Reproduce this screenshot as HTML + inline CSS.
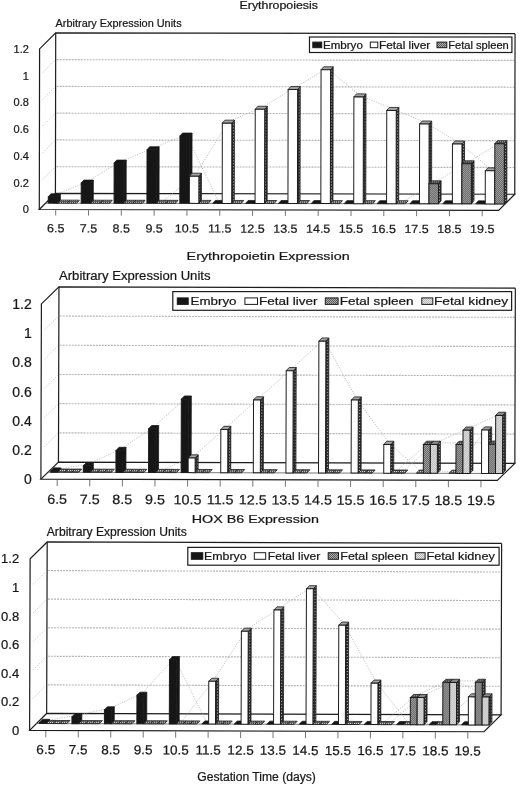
<!DOCTYPE html>
<html><head><meta charset="utf-8"><title>Erythropoiesis / Erythropoietin / HOX B6 expression</title>
<style>html,body{margin:0;padding:0;background:#fff;}body{width:520px;height:786px;overflow:hidden;font-family:"Liberation Sans", sans-serif;}svg{display:block;will-change:transform;}</style>
</head><body>
<svg width="520" height="786" viewBox="0 0 520 786" font-family='"Liberation Sans", sans-serif'>
<style>text{stroke:#1a1a1a;stroke-width:0.22px;}</style>
<defs>
<pattern id="pmid" width="2" height="2" patternUnits="userSpaceOnUse"><rect width="2" height="2" fill="#b0b0b0"/><rect width="1" height="1" fill="#565656"/><rect x="1" y="1" width="1" height="1" fill="#565656"/></pattern>
<pattern id="plight" width="2" height="2" patternUnits="userSpaceOnUse"><rect width="2" height="2" fill="#e8e8e8"/><rect width="1" height="1" fill="#b4b4b4"/><rect x="1" y="1" width="1" height="1" fill="#b4b4b4"/></pattern>
<pattern id="pdark" width="2" height="3" patternUnits="userSpaceOnUse"><rect width="2" height="3" fill="#2a2a2a"/><rect x="1" y="1" width="1" height="1" fill="#bbb"/></pattern>
<pattern id="ptop" width="2" height="2" patternUnits="userSpaceOnUse"><rect width="2" height="2" fill="#444"/><rect width="1" height="1" fill="#bbb"/></pattern>
<filter id="soft" x="0" y="0" width="100%" height="100%"><feGaussianBlur stdDeviation="0.35"/></filter>
<pattern id="pflat" width="2" height="2" patternUnits="userSpaceOnUse"><rect width="2" height="2" fill="#555"/><rect width="1" height="1" fill="#ddd"/></pattern>
</defs>
<rect width="520" height="786" fill="#fff"/>
<g filter="url(#soft)">
<g transform="rotate(0.1 39.3 209.5)">
<path d="M56.4 166.64 L514.24 166.64" fill="none" stroke="#b4b4b4" stroke-width="1.1" stroke-dasharray="2 1"/>
<path d="M42.3 179.74 L54.4 167.64" fill="none" stroke="#c8c8c8" stroke-width="0.9" stroke-dasharray="1.5 1.5"/>
<path d="M56.4 139.88 L514.24 139.88" fill="none" stroke="#b4b4b4" stroke-width="1.1" stroke-dasharray="2 1"/>
<path d="M42.3 152.98 L54.4 140.88" fill="none" stroke="#c8c8c8" stroke-width="0.9" stroke-dasharray="1.5 1.5"/>
<path d="M56.4 113.12 L514.24 113.12" fill="none" stroke="#b4b4b4" stroke-width="1.1" stroke-dasharray="2 1"/>
<path d="M42.3 126.22 L54.4 114.12" fill="none" stroke="#c8c8c8" stroke-width="0.9" stroke-dasharray="1.5 1.5"/>
<path d="M56.4 86.36 L514.24 86.36" fill="none" stroke="#b4b4b4" stroke-width="1.1" stroke-dasharray="2 1"/>
<path d="M42.3 99.46 L54.4 87.36" fill="none" stroke="#c8c8c8" stroke-width="0.9" stroke-dasharray="1.5 1.5"/>
<path d="M56.4 59.6 L514.24 59.6" fill="none" stroke="#b4b4b4" stroke-width="1.1" stroke-dasharray="2 1"/>
<path d="M42.3 72.7 L54.4 60.6" fill="none" stroke="#c8c8c8" stroke-width="0.9" stroke-dasharray="1.5 1.5"/>
<path d="M39.3 209.5 L39.3 48.94 L55.4 32.84 L514.74 32.84" fill="none" stroke="#1c1c1c" stroke-width="1.2"/>
<path d="M55.4 32.84 L55.4 193.4 M514.74 32.84 L514.74 193.4" fill="none" stroke="#1c1c1c" stroke-width="1.2"/>
<path d="M39.3 209.5 L498.64 209.5 L514.74 193.4 L55.4 193.4 Z" fill="#fff" stroke="#1c1c1c" stroke-width="1.2"/>
<path d="M55.7 210.1 L55.7 215.5" stroke="#666" stroke-width="0.9"/>
<path d="M88.52 210.1 L88.52 215.5" stroke="#666" stroke-width="0.9"/>
<path d="M121.33 210.1 L121.33 215.5" stroke="#666" stroke-width="0.9"/>
<path d="M154.13 210.1 L154.13 215.5" stroke="#666" stroke-width="0.9"/>
<path d="M186.94 210.1 L186.94 215.5" stroke="#666" stroke-width="0.9"/>
<path d="M219.75 210.1 L219.75 215.5" stroke="#666" stroke-width="0.9"/>
<path d="M252.56 210.1 L252.56 215.5" stroke="#666" stroke-width="0.9"/>
<path d="M285.38 210.1 L285.38 215.5" stroke="#666" stroke-width="0.9"/>
<path d="M318.19 210.1 L318.19 215.5" stroke="#666" stroke-width="0.9"/>
<path d="M351 210.1 L351 215.5" stroke="#666" stroke-width="0.9"/>
<path d="M383.81 210.1 L383.81 215.5" stroke="#666" stroke-width="0.9"/>
<path d="M416.62 210.1 L416.62 215.5" stroke="#666" stroke-width="0.9"/>
<path d="M449.43 210.1 L449.43 215.5" stroke="#666" stroke-width="0.9"/>
<path d="M482.24 210.1 L482.24 215.5" stroke="#666" stroke-width="0.9"/>
<path d="M45.7 203.1 L505.04 203.1" stroke="#6a6a6a" stroke-width="0.9"/>
<path d="M54.33 195.31 L87.22 181.53 L120.1 161.46 L152.98 148.08 L185.86 134.3 L218.74 201.6" fill="none" stroke="#ababab" stroke-width="0.7" stroke-dasharray="1.2 1.3"/>
<path d="M162.48 201.6 L195.36 174.44 L228.24 121.32 L261.12 107.4 L294 87.6 L326.88 67.8 L359.75 94.83 L392.63 108.34 L425.51 121.86 L458.39 141.79 L491.28 168.55" fill="none" stroke="#ababab" stroke-width="0.7" stroke-dasharray="1.2 1.3"/>
<path d="M402.13 201.6 L435.01 181.66 L467.89 161.59 L500.78 141.39" fill="none" stroke="#ababab" stroke-width="0.7" stroke-dasharray="1.2 1.3"/>
<path d="M57.78 203.1 L57.78 196.81 L60.38 193.81 L60.38 200.1 Z" fill="#141414" stroke="#1c1c1c" stroke-width="0.8"/>
<path d="M48.28 196.81 L57.78 196.81 L60.38 193.81 L50.88 193.81 Z" fill="#141414" stroke="#1c1c1c" stroke-width="0.8"/>
<rect x="48.28" y="196.81" width="9.5" height="6.29" fill="#141414" stroke="#1c1c1c" stroke-width="1"/>
<path d="M57.78 203.1 L67.28 203.1 L69.88 200.1 L60.38 200.1 Z" fill="url(#pflat)" stroke="#1c1c1c" stroke-width="0.8"/>
<path d="M67.28 203.1 L76.78 203.1 L79.38 200.1 L69.88 200.1 Z" fill="url(#pflat)" stroke="#1c1c1c" stroke-width="0.8"/>
<path d="M90.67 203.1 L90.67 183.03 L93.27 180.03 L93.27 200.1 Z" fill="#141414" stroke="#1c1c1c" stroke-width="0.8"/>
<path d="M81.17 183.03 L90.67 183.03 L93.27 180.03 L83.77 180.03 Z" fill="#141414" stroke="#1c1c1c" stroke-width="0.8"/>
<rect x="81.17" y="183.03" width="9.5" height="20.07" fill="#141414" stroke="#1c1c1c" stroke-width="1"/>
<path d="M90.67 203.1 L100.17 203.1 L102.77 200.1 L93.27 200.1 Z" fill="url(#pflat)" stroke="#1c1c1c" stroke-width="0.8"/>
<path d="M100.17 203.1 L109.67 203.1 L112.27 200.1 L102.77 200.1 Z" fill="url(#pflat)" stroke="#1c1c1c" stroke-width="0.8"/>
<path d="M123.55 203.1 L123.55 162.96 L126.15 159.96 L126.15 200.1 Z" fill="#141414" stroke="#1c1c1c" stroke-width="0.8"/>
<path d="M114.05 162.96 L123.55 162.96 L126.15 159.96 L116.65 159.96 Z" fill="#141414" stroke="#1c1c1c" stroke-width="0.8"/>
<rect x="114.05" y="162.96" width="9.5" height="40.14" fill="#141414" stroke="#1c1c1c" stroke-width="1"/>
<path d="M123.55 203.1 L133.05 203.1 L135.65 200.1 L126.15 200.1 Z" fill="url(#pflat)" stroke="#1c1c1c" stroke-width="0.8"/>
<path d="M133.05 203.1 L142.55 203.1 L145.15 200.1 L135.65 200.1 Z" fill="url(#pflat)" stroke="#1c1c1c" stroke-width="0.8"/>
<path d="M156.43 203.1 L156.43 149.58 L159.03 146.58 L159.03 200.1 Z" fill="#141414" stroke="#1c1c1c" stroke-width="0.8"/>
<path d="M146.93 149.58 L156.43 149.58 L159.03 146.58 L149.53 146.58 Z" fill="#141414" stroke="#1c1c1c" stroke-width="0.8"/>
<rect x="146.93" y="149.58" width="9.5" height="53.52" fill="#141414" stroke="#1c1c1c" stroke-width="1"/>
<path d="M156.43 203.1 L165.93 203.1 L168.53 200.1 L159.03 200.1 Z" fill="url(#pflat)" stroke="#1c1c1c" stroke-width="0.8"/>
<path d="M165.93 203.1 L175.43 203.1 L178.03 200.1 L168.53 200.1 Z" fill="url(#pflat)" stroke="#1c1c1c" stroke-width="0.8"/>
<path d="M189.31 203.1 L189.31 135.8 L191.91 132.8 L191.91 200.1 Z" fill="#141414" stroke="#1c1c1c" stroke-width="0.8"/>
<path d="M179.81 135.8 L189.31 135.8 L191.91 132.8 L182.41 132.8 Z" fill="#141414" stroke="#1c1c1c" stroke-width="0.8"/>
<rect x="179.81" y="135.8" width="9.5" height="67.3" fill="#141414" stroke="#1c1c1c" stroke-width="1"/>
<path d="M198.81 203.1 L198.81 175.94 L201.41 172.94 L201.41 200.1 Z" fill="url(#pdark)" stroke="#1c1c1c" stroke-width="0.8"/>
<path d="M189.31 175.94 L198.81 175.94 L201.41 172.94 L191.91 172.94 Z" fill="#a4a4a4" stroke="#1c1c1c" stroke-width="0.8"/>
<rect x="189.31" y="175.94" width="9.5" height="27.16" fill="#fff" stroke="#1c1c1c" stroke-width="1"/>
<path d="M198.81 203.1 L208.31 203.1 L210.91 200.1 L201.41 200.1 Z" fill="url(#pflat)" stroke="#1c1c1c" stroke-width="0.8"/>
<path d="M212.69 203.1 L222.19 203.1 L224.79 200.1 L215.29 200.1 Z" fill="#141414" stroke="#1c1c1c" stroke-width="0.8"/>
<path d="M231.69 203.1 L231.69 122.82 L234.29 119.82 L234.29 200.1 Z" fill="url(#pdark)" stroke="#1c1c1c" stroke-width="0.8"/>
<path d="M222.19 122.82 L231.69 122.82 L234.29 119.82 L224.79 119.82 Z" fill="#a4a4a4" stroke="#1c1c1c" stroke-width="0.8"/>
<rect x="222.19" y="122.82" width="9.5" height="80.28" fill="#fff" stroke="#1c1c1c" stroke-width="1"/>
<path d="M231.69 203.1 L241.19 203.1 L243.79 200.1 L234.29 200.1 Z" fill="url(#pflat)" stroke="#1c1c1c" stroke-width="0.8"/>
<path d="M245.56 203.1 L255.06 203.1 L257.67 200.1 L248.16 200.1 Z" fill="#141414" stroke="#1c1c1c" stroke-width="0.8"/>
<path d="M264.56 203.1 L264.56 108.9 L267.17 105.9 L267.17 200.1 Z" fill="url(#pdark)" stroke="#1c1c1c" stroke-width="0.8"/>
<path d="M255.06 108.9 L264.56 108.9 L267.17 105.9 L257.67 105.9 Z" fill="#a4a4a4" stroke="#1c1c1c" stroke-width="0.8"/>
<rect x="255.06" y="108.9" width="9.5" height="94.2" fill="#fff" stroke="#1c1c1c" stroke-width="1"/>
<path d="M264.56 203.1 L274.06 203.1 L276.67 200.1 L267.17 200.1 Z" fill="url(#pflat)" stroke="#1c1c1c" stroke-width="0.8"/>
<path d="M278.44 203.1 L287.94 203.1 L290.55 200.1 L281.05 200.1 Z" fill="#141414" stroke="#1c1c1c" stroke-width="0.8"/>
<path d="M297.44 203.1 L297.44 89.1 L300.05 86.1 L300.05 200.1 Z" fill="url(#pdark)" stroke="#1c1c1c" stroke-width="0.8"/>
<path d="M287.94 89.1 L297.44 89.1 L300.05 86.1 L290.55 86.1 Z" fill="#a4a4a4" stroke="#1c1c1c" stroke-width="0.8"/>
<rect x="287.94" y="89.1" width="9.5" height="114" fill="#fff" stroke="#1c1c1c" stroke-width="1"/>
<path d="M297.44 203.1 L306.94 203.1 L309.55 200.1 L300.05 200.1 Z" fill="url(#pflat)" stroke="#1c1c1c" stroke-width="0.8"/>
<path d="M311.32 203.1 L320.82 203.1 L323.43 200.1 L313.93 200.1 Z" fill="#141414" stroke="#1c1c1c" stroke-width="0.8"/>
<path d="M330.32 203.1 L330.32 69.3 L332.93 66.3 L332.93 200.1 Z" fill="url(#pdark)" stroke="#1c1c1c" stroke-width="0.8"/>
<path d="M320.82 69.3 L330.32 69.3 L332.93 66.3 L323.43 66.3 Z" fill="#a4a4a4" stroke="#1c1c1c" stroke-width="0.8"/>
<rect x="320.82" y="69.3" width="9.5" height="133.8" fill="#fff" stroke="#1c1c1c" stroke-width="1"/>
<path d="M330.32 203.1 L339.82 203.1 L342.43 200.1 L332.93 200.1 Z" fill="url(#pflat)" stroke="#1c1c1c" stroke-width="0.8"/>
<path d="M344.2 203.1 L353.7 203.1 L356.31 200.1 L346.81 200.1 Z" fill="#141414" stroke="#1c1c1c" stroke-width="0.8"/>
<path d="M363.2 203.1 L363.2 96.33 L365.81 93.33 L365.81 200.1 Z" fill="url(#pdark)" stroke="#1c1c1c" stroke-width="0.8"/>
<path d="M353.7 96.33 L363.2 96.33 L365.81 93.33 L356.31 93.33 Z" fill="#a4a4a4" stroke="#1c1c1c" stroke-width="0.8"/>
<rect x="353.7" y="96.33" width="9.5" height="106.77" fill="#fff" stroke="#1c1c1c" stroke-width="1"/>
<path d="M363.2 203.1 L372.7 203.1 L375.31 200.1 L365.81 200.1 Z" fill="url(#pflat)" stroke="#1c1c1c" stroke-width="0.8"/>
<path d="M377.08 203.1 L386.58 203.1 L389.19 200.1 L379.69 200.1 Z" fill="#141414" stroke="#1c1c1c" stroke-width="0.8"/>
<path d="M396.08 203.1 L396.08 109.84 L398.69 106.84 L398.69 200.1 Z" fill="url(#pdark)" stroke="#1c1c1c" stroke-width="0.8"/>
<path d="M386.58 109.84 L396.08 109.84 L398.69 106.84 L389.19 106.84 Z" fill="#a4a4a4" stroke="#1c1c1c" stroke-width="0.8"/>
<rect x="386.58" y="109.84" width="9.5" height="93.26" fill="#fff" stroke="#1c1c1c" stroke-width="1"/>
<path d="M396.08 203.1 L405.58 203.1 L408.19 200.1 L398.69 200.1 Z" fill="url(#pflat)" stroke="#1c1c1c" stroke-width="0.8"/>
<path d="M409.96 203.1 L419.46 203.1 L422.06 200.1 L412.56 200.1 Z" fill="#141414" stroke="#1c1c1c" stroke-width="0.8"/>
<path d="M428.96 203.1 L428.96 123.36 L431.56 120.36 L431.56 200.1 Z" fill="url(#pdark)" stroke="#1c1c1c" stroke-width="0.8"/>
<path d="M419.46 123.36 L428.96 123.36 L431.56 120.36 L422.06 120.36 Z" fill="#a4a4a4" stroke="#1c1c1c" stroke-width="0.8"/>
<rect x="419.46" y="123.36" width="9.5" height="79.74" fill="#fff" stroke="#1c1c1c" stroke-width="1"/>
<path d="M438.46 203.1 L438.46 183.16 L441.06 180.16 L441.06 200.1 Z" fill="url(#pdark)" stroke="#1c1c1c" stroke-width="0.8"/>
<path d="M428.96 183.16 L438.46 183.16 L441.06 180.16 L431.56 180.16 Z" fill="url(#ptop)" stroke="#1c1c1c" stroke-width="0.8"/>
<rect x="428.96" y="183.16" width="9.5" height="19.94" fill="url(#pmid)" stroke="#1c1c1c" stroke-width="1"/>
<path d="M442.84 203.1 L452.34 203.1 L454.94 200.1 L445.44 200.1 Z" fill="#141414" stroke="#1c1c1c" stroke-width="0.8"/>
<path d="M461.84 203.1 L461.84 143.29 L464.44 140.29 L464.44 200.1 Z" fill="url(#pdark)" stroke="#1c1c1c" stroke-width="0.8"/>
<path d="M452.34 143.29 L461.84 143.29 L464.44 140.29 L454.94 140.29 Z" fill="#a4a4a4" stroke="#1c1c1c" stroke-width="0.8"/>
<rect x="452.34" y="143.29" width="9.5" height="59.81" fill="#fff" stroke="#1c1c1c" stroke-width="1"/>
<path d="M471.34 203.1 L471.34 163.09 L473.94 160.09 L473.94 200.1 Z" fill="url(#pdark)" stroke="#1c1c1c" stroke-width="0.8"/>
<path d="M461.84 163.09 L471.34 163.09 L473.94 160.09 L464.44 160.09 Z" fill="url(#ptop)" stroke="#1c1c1c" stroke-width="0.8"/>
<rect x="461.84" y="163.09" width="9.5" height="40.01" fill="url(#pmid)" stroke="#1c1c1c" stroke-width="1"/>
<path d="M475.73 203.1 L485.23 203.1 L487.83 200.1 L478.33 200.1 Z" fill="#141414" stroke="#1c1c1c" stroke-width="0.8"/>
<path d="M494.73 203.1 L494.73 170.05 L497.33 167.05 L497.33 200.1 Z" fill="url(#pdark)" stroke="#1c1c1c" stroke-width="0.8"/>
<path d="M485.23 170.05 L494.73 170.05 L497.33 167.05 L487.83 167.05 Z" fill="#a4a4a4" stroke="#1c1c1c" stroke-width="0.8"/>
<rect x="485.23" y="170.05" width="9.5" height="33.05" fill="#fff" stroke="#1c1c1c" stroke-width="1"/>
<path d="M504.23 203.1 L504.23 142.89 L506.83 139.89 L506.83 200.1 Z" fill="url(#pdark)" stroke="#1c1c1c" stroke-width="0.8"/>
<path d="M494.73 142.89 L504.23 142.89 L506.83 139.89 L497.33 139.89 Z" fill="url(#ptop)" stroke="#1c1c1c" stroke-width="0.8"/>
<rect x="494.73" y="142.89" width="9.5" height="60.21" fill="url(#pmid)" stroke="#1c1c1c" stroke-width="1"/>
<text transform="translate(55.7 232.3) scale(1.06 1)" font-size="11.8" text-anchor="middle" fill="#151515">6.5</text>
<text transform="translate(88.52 232.3) scale(1.06 1)" font-size="11.8" text-anchor="middle" fill="#151515">7.5</text>
<text transform="translate(121.33 232.3) scale(1.06 1)" font-size="11.8" text-anchor="middle" fill="#151515">8.5</text>
<text transform="translate(154.13 232.3) scale(1.06 1)" font-size="11.8" text-anchor="middle" fill="#151515">9.5</text>
<text transform="translate(186.94 232.3) scale(1.06 1)" font-size="11.8" text-anchor="middle" fill="#151515">10.5</text>
<text transform="translate(219.75 232.3) scale(1.06 1)" font-size="11.8" text-anchor="middle" fill="#151515">11.5</text>
<text transform="translate(252.56 232.3) scale(1.06 1)" font-size="11.8" text-anchor="middle" fill="#151515">12.5</text>
<text transform="translate(285.38 232.3) scale(1.06 1)" font-size="11.8" text-anchor="middle" fill="#151515">13.5</text>
<text transform="translate(318.19 232.3) scale(1.06 1)" font-size="11.8" text-anchor="middle" fill="#151515">14.5</text>
<text transform="translate(351 232.3) scale(1.06 1)" font-size="11.8" text-anchor="middle" fill="#151515">15.5</text>
<text transform="translate(383.81 232.3) scale(1.06 1)" font-size="11.8" text-anchor="middle" fill="#151515">16.5</text>
<text transform="translate(416.62 232.3) scale(1.06 1)" font-size="11.8" text-anchor="middle" fill="#151515">17.5</text>
<text transform="translate(449.43 232.3) scale(1.06 1)" font-size="11.8" text-anchor="middle" fill="#151515">18.5</text>
<text transform="translate(482.24 232.3) scale(1.06 1)" font-size="11.8" text-anchor="middle" fill="#151515">19.5</text>
</g>
<text x="28.9" y="213.4" font-size="11" text-anchor="end" fill="#151515">0</text>
<text x="28.9" y="186.64" font-size="11" text-anchor="end" fill="#151515">0.2</text>
<text x="28.9" y="159.88" font-size="11" text-anchor="end" fill="#151515">0.4</text>
<text x="28.9" y="133.12" font-size="11" text-anchor="end" fill="#151515">0.6</text>
<text x="28.9" y="106.36" font-size="11" text-anchor="end" fill="#151515">0.8</text>
<text x="28.9" y="79.6" font-size="11" text-anchor="end" fill="#151515">1</text>
<text x="28.9" y="52.84" font-size="11" text-anchor="end" fill="#151515">1.2</text>
<text x="239.5" y="8.7" font-size="10.5" textLength="78.5" lengthAdjust="spacingAndGlyphs" fill="#151515">Erythropoiesis</text>
<text x="55.6" y="26.8" font-size="11.2" textLength="126" lengthAdjust="spacingAndGlyphs" fill="#151515">Arbitrary Expression Units</text>
<rect x="309.5" y="37" width="202.4" height="15.5" fill="#fff" stroke="#1c1c1c" stroke-width="1.2"/>
<rect x="312.8" y="42.1" width="8.9" height="5.6" fill="#141414" stroke="#1c1c1c" stroke-width="1"/>
<text x="323" y="48.6" font-size="10" textLength="39.8" lengthAdjust="spacingAndGlyphs" fill="#151515">Embryo</text>
<rect x="370.3" y="42.1" width="7.5" height="5.6" fill="#fff" stroke="#1c1c1c" stroke-width="1"/>
<text x="379" y="48.6" font-size="10" textLength="51.3" lengthAdjust="spacingAndGlyphs" fill="#151515">Fetal liver</text>
<rect x="437" y="42.1" width="9.8" height="5.6" fill="url(#pmid)" stroke="#1c1c1c" stroke-width="1"/>
<text x="448.2" y="48.6" font-size="10" textLength="60.6" lengthAdjust="spacingAndGlyphs" fill="#151515">Fetal spleen</text>
<g transform="rotate(0.163 40.9 479.1)">
<path d="M59.4 432.8 L514.3 432.8" fill="none" stroke="#b4b4b4" stroke-width="1.1" stroke-dasharray="2 1"/>
<path d="M43.9 446.9 L57.4 433.8" fill="none" stroke="#c8c8c8" stroke-width="0.9" stroke-dasharray="1.5 1.5"/>
<path d="M59.4 403.6 L514.3 403.6" fill="none" stroke="#b4b4b4" stroke-width="1.1" stroke-dasharray="2 1"/>
<path d="M43.9 417.7 L57.4 404.6" fill="none" stroke="#c8c8c8" stroke-width="0.9" stroke-dasharray="1.5 1.5"/>
<path d="M59.4 374.4 L514.3 374.4" fill="none" stroke="#b4b4b4" stroke-width="1.1" stroke-dasharray="2 1"/>
<path d="M43.9 388.5 L57.4 375.4" fill="none" stroke="#c8c8c8" stroke-width="0.9" stroke-dasharray="1.5 1.5"/>
<path d="M59.4 345.2 L514.3 345.2" fill="none" stroke="#b4b4b4" stroke-width="1.1" stroke-dasharray="2 1"/>
<path d="M43.9 359.3 L57.4 346.2" fill="none" stroke="#c8c8c8" stroke-width="0.9" stroke-dasharray="1.5 1.5"/>
<path d="M59.4 316 L514.3 316" fill="none" stroke="#b4b4b4" stroke-width="1.1" stroke-dasharray="2 1"/>
<path d="M43.9 330.1 L57.4 317" fill="none" stroke="#c8c8c8" stroke-width="0.9" stroke-dasharray="1.5 1.5"/>
<path d="M40.9 479.1 L40.9 303.9 L58.4 286.8 L514.8 286.8" fill="none" stroke="#1c1c1c" stroke-width="1.2"/>
<path d="M58.4 286.8 L58.4 462 M514.8 286.8 L514.8 462" fill="none" stroke="#1c1c1c" stroke-width="1.2"/>
<path d="M40.9 479.1 L497.3 479.1 L514.8 462 L58.4 462 Z" fill="#fff" stroke="#1c1c1c" stroke-width="1.2"/>
<path d="M57.2 479.7 L57.2 486.1" stroke="#666" stroke-width="0.9"/>
<path d="M89.8 479.7 L89.8 486.1" stroke="#666" stroke-width="0.9"/>
<path d="M122.4 479.7 L122.4 486.1" stroke="#666" stroke-width="0.9"/>
<path d="M155 479.7 L155 486.1" stroke="#666" stroke-width="0.9"/>
<path d="M187.6 479.7 L187.6 486.1" stroke="#666" stroke-width="0.9"/>
<path d="M220.2 479.7 L220.2 486.1" stroke="#666" stroke-width="0.9"/>
<path d="M252.8 479.7 L252.8 486.1" stroke="#666" stroke-width="0.9"/>
<path d="M285.4 479.7 L285.4 486.1" stroke="#666" stroke-width="0.9"/>
<path d="M318 479.7 L318 486.1" stroke="#666" stroke-width="0.9"/>
<path d="M350.6 479.7 L350.6 486.1" stroke="#666" stroke-width="0.9"/>
<path d="M383.2 479.7 L383.2 486.1" stroke="#666" stroke-width="0.9"/>
<path d="M415.8 479.7 L415.8 486.1" stroke="#666" stroke-width="0.9"/>
<path d="M448.4 479.7 L448.4 486.1" stroke="#666" stroke-width="0.9"/>
<path d="M481 479.7 L481 486.1" stroke="#666" stroke-width="0.9"/>
<path d="M47.96 472.2 L504.36 472.2" stroke="#6a6a6a" stroke-width="0.9"/>
<path d="M55.7 469.43 L88.3 464.03 L120.9 448.7 L153.5 426.8 L186.1 397.16" fill="none" stroke="#ababab" stroke-width="0.7" stroke-dasharray="1.2 1.3"/>
<path d="M160.5 470.6 L193.1 456 L225.7 427.38 L258.3 397.75 L290.9 368.4 L323.5 338.76 L356.1 397.6 L388.7 441.84 L421.3 470.6 L453.9 470.6 L486.5 427.24" fill="none" stroke="#ababab" stroke-width="0.7" stroke-dasharray="1.2 1.3"/>
<path d="M395.7 470.6 L428.3 441.69 L460.9 441.69 L493.5 441.4" fill="none" stroke="#ababab" stroke-width="0.7" stroke-dasharray="1.2 1.3"/>
<path d="M402.7 470.6 L435.3 441.69 L467.9 427.38 L500.5 412.49" fill="none" stroke="#ababab" stroke-width="0.7" stroke-dasharray="1.2 1.3"/>
<path d="M57.7 472.2 L57.7 471.03 L60.7 467.83 L60.7 469 Z" fill="#141414" stroke="#1c1c1c" stroke-width="0.8"/>
<path d="M50.7 471.03 L57.7 471.03 L60.7 467.83 L53.7 467.83 Z" fill="#141414" stroke="#1c1c1c" stroke-width="0.8"/>
<rect x="50.7" y="471.03" width="7" height="1.17" fill="#141414" stroke="#1c1c1c" stroke-width="1"/>
<path d="M57.7 472.2 L64.7 472.2 L67.7 469 L60.7 469 Z" fill="url(#pflat)" stroke="#1c1c1c" stroke-width="0.8"/>
<path d="M64.7 472.2 L71.7 472.2 L74.7 469 L67.7 469 Z" fill="url(#pflat)" stroke="#1c1c1c" stroke-width="0.8"/>
<path d="M71.7 472.2 L78.7 472.2 L81.7 469 L74.7 469 Z" fill="url(#pflat)" stroke="#1c1c1c" stroke-width="0.8"/>
<path d="M90.3 472.2 L90.3 465.63 L93.3 462.43 L93.3 469 Z" fill="#141414" stroke="#1c1c1c" stroke-width="0.8"/>
<path d="M83.3 465.63 L90.3 465.63 L93.3 462.43 L86.3 462.43 Z" fill="#141414" stroke="#1c1c1c" stroke-width="0.8"/>
<rect x="83.3" y="465.63" width="7" height="6.57" fill="#141414" stroke="#1c1c1c" stroke-width="1"/>
<path d="M90.3 472.2 L97.3 472.2 L100.3 469 L93.3 469 Z" fill="url(#pflat)" stroke="#1c1c1c" stroke-width="0.8"/>
<path d="M97.3 472.2 L104.3 472.2 L107.3 469 L100.3 469 Z" fill="url(#pflat)" stroke="#1c1c1c" stroke-width="0.8"/>
<path d="M104.3 472.2 L111.3 472.2 L114.3 469 L107.3 469 Z" fill="url(#pflat)" stroke="#1c1c1c" stroke-width="0.8"/>
<path d="M122.9 472.2 L122.9 450.3 L125.9 447.1 L125.9 469 Z" fill="#141414" stroke="#1c1c1c" stroke-width="0.8"/>
<path d="M115.9 450.3 L122.9 450.3 L125.9 447.1 L118.9 447.1 Z" fill="#141414" stroke="#1c1c1c" stroke-width="0.8"/>
<rect x="115.9" y="450.3" width="7" height="21.9" fill="#141414" stroke="#1c1c1c" stroke-width="1"/>
<path d="M122.9 472.2 L129.9 472.2 L132.9 469 L125.9 469 Z" fill="url(#pflat)" stroke="#1c1c1c" stroke-width="0.8"/>
<path d="M129.9 472.2 L136.9 472.2 L139.9 469 L132.9 469 Z" fill="url(#pflat)" stroke="#1c1c1c" stroke-width="0.8"/>
<path d="M136.9 472.2 L143.9 472.2 L146.9 469 L139.9 469 Z" fill="url(#pflat)" stroke="#1c1c1c" stroke-width="0.8"/>
<path d="M155.5 472.2 L155.5 428.4 L158.5 425.2 L158.5 469 Z" fill="#141414" stroke="#1c1c1c" stroke-width="0.8"/>
<path d="M148.5 428.4 L155.5 428.4 L158.5 425.2 L151.5 425.2 Z" fill="#141414" stroke="#1c1c1c" stroke-width="0.8"/>
<rect x="148.5" y="428.4" width="7" height="43.8" fill="#141414" stroke="#1c1c1c" stroke-width="1"/>
<path d="M155.5 472.2 L162.5 472.2 L165.5 469 L158.5 469 Z" fill="url(#pflat)" stroke="#1c1c1c" stroke-width="0.8"/>
<path d="M162.5 472.2 L169.5 472.2 L172.5 469 L165.5 469 Z" fill="url(#pflat)" stroke="#1c1c1c" stroke-width="0.8"/>
<path d="M169.5 472.2 L176.5 472.2 L179.5 469 L172.5 469 Z" fill="url(#pflat)" stroke="#1c1c1c" stroke-width="0.8"/>
<path d="M188.1 472.2 L188.1 398.76 L191.1 395.56 L191.1 469 Z" fill="#141414" stroke="#1c1c1c" stroke-width="0.8"/>
<path d="M181.1 398.76 L188.1 398.76 L191.1 395.56 L184.1 395.56 Z" fill="#141414" stroke="#1c1c1c" stroke-width="0.8"/>
<rect x="181.1" y="398.76" width="7" height="73.44" fill="#141414" stroke="#1c1c1c" stroke-width="1"/>
<path d="M195.1 472.2 L195.1 457.6 L198.1 454.4 L198.1 469 Z" fill="url(#pdark)" stroke="#1c1c1c" stroke-width="0.8"/>
<path d="M188.1 457.6 L195.1 457.6 L198.1 454.4 L191.1 454.4 Z" fill="#a4a4a4" stroke="#1c1c1c" stroke-width="0.8"/>
<rect x="188.1" y="457.6" width="7" height="14.6" fill="#fff" stroke="#1c1c1c" stroke-width="1"/>
<path d="M195.1 472.2 L202.1 472.2 L205.1 469 L198.1 469 Z" fill="url(#pflat)" stroke="#1c1c1c" stroke-width="0.8"/>
<path d="M202.1 472.2 L209.1 472.2 L212.1 469 L205.1 469 Z" fill="url(#pflat)" stroke="#1c1c1c" stroke-width="0.8"/>
<path d="M227.7 472.2 L227.7 428.98 L230.7 425.78 L230.7 469 Z" fill="url(#pdark)" stroke="#1c1c1c" stroke-width="0.8"/>
<path d="M220.7 428.98 L227.7 428.98 L230.7 425.78 L223.7 425.78 Z" fill="#a4a4a4" stroke="#1c1c1c" stroke-width="0.8"/>
<rect x="220.7" y="428.98" width="7" height="43.22" fill="#fff" stroke="#1c1c1c" stroke-width="1"/>
<path d="M227.7 472.2 L234.7 472.2 L237.7 469 L230.7 469 Z" fill="url(#pflat)" stroke="#1c1c1c" stroke-width="0.8"/>
<path d="M234.7 472.2 L241.7 472.2 L244.7 469 L237.7 469 Z" fill="url(#pflat)" stroke="#1c1c1c" stroke-width="0.8"/>
<path d="M260.3 472.2 L260.3 399.35 L263.3 396.15 L263.3 469 Z" fill="url(#pdark)" stroke="#1c1c1c" stroke-width="0.8"/>
<path d="M253.3 399.35 L260.3 399.35 L263.3 396.15 L256.3 396.15 Z" fill="#a4a4a4" stroke="#1c1c1c" stroke-width="0.8"/>
<rect x="253.3" y="399.35" width="7" height="72.85" fill="#fff" stroke="#1c1c1c" stroke-width="1"/>
<path d="M260.3 472.2 L267.3 472.2 L270.3 469 L263.3 469 Z" fill="url(#pflat)" stroke="#1c1c1c" stroke-width="0.8"/>
<path d="M267.3 472.2 L274.3 472.2 L277.3 469 L270.3 469 Z" fill="url(#pflat)" stroke="#1c1c1c" stroke-width="0.8"/>
<path d="M292.9 472.2 L292.9 370 L295.9 366.8 L295.9 469 Z" fill="url(#pdark)" stroke="#1c1c1c" stroke-width="0.8"/>
<path d="M285.9 370 L292.9 370 L295.9 366.8 L288.9 366.8 Z" fill="#a4a4a4" stroke="#1c1c1c" stroke-width="0.8"/>
<rect x="285.9" y="370" width="7" height="102.2" fill="#fff" stroke="#1c1c1c" stroke-width="1"/>
<path d="M292.9 472.2 L299.9 472.2 L302.9 469 L295.9 469 Z" fill="url(#pflat)" stroke="#1c1c1c" stroke-width="0.8"/>
<path d="M299.9 472.2 L306.9 472.2 L309.9 469 L302.9 469 Z" fill="url(#pflat)" stroke="#1c1c1c" stroke-width="0.8"/>
<path d="M325.5 472.2 L325.5 340.36 L328.5 337.16 L328.5 469 Z" fill="url(#pdark)" stroke="#1c1c1c" stroke-width="0.8"/>
<path d="M318.5 340.36 L325.5 340.36 L328.5 337.16 L321.5 337.16 Z" fill="#a4a4a4" stroke="#1c1c1c" stroke-width="0.8"/>
<rect x="318.5" y="340.36" width="7" height="131.84" fill="#fff" stroke="#1c1c1c" stroke-width="1"/>
<path d="M325.5 472.2 L332.5 472.2 L335.5 469 L328.5 469 Z" fill="url(#pflat)" stroke="#1c1c1c" stroke-width="0.8"/>
<path d="M332.5 472.2 L339.5 472.2 L342.5 469 L335.5 469 Z" fill="url(#pflat)" stroke="#1c1c1c" stroke-width="0.8"/>
<path d="M358.1 472.2 L358.1 399.2 L361.1 396 L361.1 469 Z" fill="url(#pdark)" stroke="#1c1c1c" stroke-width="0.8"/>
<path d="M351.1 399.2 L358.1 399.2 L361.1 396 L354.1 396 Z" fill="#a4a4a4" stroke="#1c1c1c" stroke-width="0.8"/>
<rect x="351.1" y="399.2" width="7" height="73" fill="#fff" stroke="#1c1c1c" stroke-width="1"/>
<path d="M358.1 472.2 L365.1 472.2 L368.1 469 L361.1 469 Z" fill="url(#pflat)" stroke="#1c1c1c" stroke-width="0.8"/>
<path d="M365.1 472.2 L372.1 472.2 L375.1 469 L368.1 469 Z" fill="url(#pflat)" stroke="#1c1c1c" stroke-width="0.8"/>
<path d="M390.7 472.2 L390.7 443.44 L393.7 440.24 L393.7 469 Z" fill="url(#pdark)" stroke="#1c1c1c" stroke-width="0.8"/>
<path d="M383.7 443.44 L390.7 443.44 L393.7 440.24 L386.7 440.24 Z" fill="#a4a4a4" stroke="#1c1c1c" stroke-width="0.8"/>
<rect x="383.7" y="443.44" width="7" height="28.76" fill="#fff" stroke="#1c1c1c" stroke-width="1"/>
<path d="M390.7 472.2 L397.7 472.2 L400.7 469 L393.7 469 Z" fill="url(#pflat)" stroke="#1c1c1c" stroke-width="0.8"/>
<path d="M397.7 472.2 L404.7 472.2 L407.7 469 L400.7 469 Z" fill="url(#pflat)" stroke="#1c1c1c" stroke-width="0.8"/>
<path d="M416.3 472.2 L423.3 472.2 L426.3 469 L419.3 469 Z" fill="url(#pflat)" stroke="#1c1c1c" stroke-width="0.8"/>
<path d="M430.3 472.2 L430.3 443.29 L433.3 440.09 L433.3 469 Z" fill="url(#pdark)" stroke="#1c1c1c" stroke-width="0.8"/>
<path d="M423.3 443.29 L430.3 443.29 L433.3 440.09 L426.3 440.09 Z" fill="url(#ptop)" stroke="#1c1c1c" stroke-width="0.8"/>
<rect x="423.3" y="443.29" width="7" height="28.91" fill="url(#pmid)" stroke="#1c1c1c" stroke-width="1"/>
<path d="M437.3 472.2 L437.3 443.29 L440.3 440.09 L440.3 469 Z" fill="url(#pdark)" stroke="#1c1c1c" stroke-width="0.8"/>
<path d="M430.3 443.29 L437.3 443.29 L440.3 440.09 L433.3 440.09 Z" fill="#8a8a8a" stroke="#1c1c1c" stroke-width="0.8"/>
<rect x="430.3" y="443.29" width="7" height="28.91" fill="url(#plight)" stroke="#1c1c1c" stroke-width="1"/>
<path d="M448.9 472.2 L455.9 472.2 L458.9 469 L451.9 469 Z" fill="url(#pflat)" stroke="#1c1c1c" stroke-width="0.8"/>
<path d="M462.9 472.2 L462.9 443.29 L465.9 440.09 L465.9 469 Z" fill="url(#pdark)" stroke="#1c1c1c" stroke-width="0.8"/>
<path d="M455.9 443.29 L462.9 443.29 L465.9 440.09 L458.9 440.09 Z" fill="url(#ptop)" stroke="#1c1c1c" stroke-width="0.8"/>
<rect x="455.9" y="443.29" width="7" height="28.91" fill="url(#pmid)" stroke="#1c1c1c" stroke-width="1"/>
<path d="M469.9 472.2 L469.9 428.98 L472.9 425.78 L472.9 469 Z" fill="url(#pdark)" stroke="#1c1c1c" stroke-width="0.8"/>
<path d="M462.9 428.98 L469.9 428.98 L472.9 425.78 L465.9 425.78 Z" fill="#8a8a8a" stroke="#1c1c1c" stroke-width="0.8"/>
<rect x="462.9" y="428.98" width="7" height="43.22" fill="url(#plight)" stroke="#1c1c1c" stroke-width="1"/>
<path d="M488.5 472.2 L488.5 428.84 L491.5 425.64 L491.5 469 Z" fill="url(#pdark)" stroke="#1c1c1c" stroke-width="0.8"/>
<path d="M481.5 428.84 L488.5 428.84 L491.5 425.64 L484.5 425.64 Z" fill="#a4a4a4" stroke="#1c1c1c" stroke-width="0.8"/>
<rect x="481.5" y="428.84" width="7" height="43.36" fill="#fff" stroke="#1c1c1c" stroke-width="1"/>
<path d="M495.5 472.2 L495.5 443 L498.5 439.8 L498.5 469 Z" fill="url(#pdark)" stroke="#1c1c1c" stroke-width="0.8"/>
<path d="M488.5 443 L495.5 443 L498.5 439.8 L491.5 439.8 Z" fill="url(#ptop)" stroke="#1c1c1c" stroke-width="0.8"/>
<rect x="488.5" y="443" width="7" height="29.2" fill="url(#pmid)" stroke="#1c1c1c" stroke-width="1"/>
<path d="M502.5 472.2 L502.5 414.09 L505.5 410.89 L505.5 469 Z" fill="url(#pdark)" stroke="#1c1c1c" stroke-width="0.8"/>
<path d="M495.5 414.09 L502.5 414.09 L505.5 410.89 L498.5 410.89 Z" fill="#8a8a8a" stroke="#1c1c1c" stroke-width="0.8"/>
<rect x="495.5" y="414.09" width="7" height="58.11" fill="url(#plight)" stroke="#1c1c1c" stroke-width="1"/>
<text transform="translate(57.2 503.8) scale(1.07 1)" font-size="13.4" text-anchor="middle" fill="#151515">6.5</text>
<text transform="translate(89.8 503.8) scale(1.07 1)" font-size="13.4" text-anchor="middle" fill="#151515">7.5</text>
<text transform="translate(122.4 503.8) scale(1.07 1)" font-size="13.4" text-anchor="middle" fill="#151515">8.5</text>
<text transform="translate(155 503.8) scale(1.07 1)" font-size="13.4" text-anchor="middle" fill="#151515">9.5</text>
<text transform="translate(187.6 503.8) scale(1.07 1)" font-size="13.4" text-anchor="middle" fill="#151515">10.5</text>
<text transform="translate(220.2 503.8) scale(1.07 1)" font-size="13.4" text-anchor="middle" fill="#151515">11.5</text>
<text transform="translate(252.8 503.8) scale(1.07 1)" font-size="13.4" text-anchor="middle" fill="#151515">12.5</text>
<text transform="translate(285.4 503.8) scale(1.07 1)" font-size="13.4" text-anchor="middle" fill="#151515">13.5</text>
<text transform="translate(318 503.8) scale(1.07 1)" font-size="13.4" text-anchor="middle" fill="#151515">14.5</text>
<text transform="translate(350.6 503.8) scale(1.07 1)" font-size="13.4" text-anchor="middle" fill="#151515">15.5</text>
<text transform="translate(383.2 503.8) scale(1.07 1)" font-size="13.4" text-anchor="middle" fill="#151515">16.5</text>
<text transform="translate(415.8 503.8) scale(1.07 1)" font-size="13.4" text-anchor="middle" fill="#151515">17.5</text>
<text transform="translate(448.4 503.8) scale(1.07 1)" font-size="13.4" text-anchor="middle" fill="#151515">18.5</text>
<text transform="translate(481 503.8) scale(1.07 1)" font-size="13.4" text-anchor="middle" fill="#151515">19.5</text>
</g>
<text x="31.8" y="484.1" font-size="14" text-anchor="end" fill="#151515">0</text>
<text x="31.8" y="454.9" font-size="14" text-anchor="end" fill="#151515">0.2</text>
<text x="31.8" y="425.7" font-size="14" text-anchor="end" fill="#151515">0.4</text>
<text x="31.8" y="396.5" font-size="14" text-anchor="end" fill="#151515">0.6</text>
<text x="31.8" y="367.3" font-size="14" text-anchor="end" fill="#151515">0.8</text>
<text x="31.8" y="338.1" font-size="14" text-anchor="end" fill="#151515">1</text>
<text x="31.8" y="308.9" font-size="14" text-anchor="end" fill="#151515">1.2</text>
<text x="186.6" y="260.4" font-size="11" textLength="163" lengthAdjust="spacingAndGlyphs" fill="#151515">Erythropoietin Expression</text>
<text x="59" y="279.8" font-size="13" textLength="151.5" lengthAdjust="spacingAndGlyphs" fill="#151515">Arbitrary Expression Units</text>
<rect x="172.8" y="291.6" width="338.8" height="18.7" fill="#fff" stroke="#1c1c1c" stroke-width="1.2"/>
<rect x="177.3" y="297.9" width="10.9" height="6.5" fill="#141414" stroke="#1c1c1c" stroke-width="1"/>
<text x="190.6" y="305.4" font-size="11.3" textLength="45.9" lengthAdjust="spacingAndGlyphs" fill="#151515">Embryo</text>
<rect x="244.9" y="297.9" width="12.6" height="6.5" fill="#fff" stroke="#1c1c1c" stroke-width="1"/>
<text x="259" y="305.4" font-size="11.3" textLength="58.4" lengthAdjust="spacingAndGlyphs" fill="#151515">Fetal liver</text>
<rect x="325.3" y="297.9" width="12.8" height="6.5" fill="url(#pmid)" stroke="#1c1c1c" stroke-width="1"/>
<text x="339.7" y="305.4" font-size="11.3" textLength="73.9" lengthAdjust="spacingAndGlyphs" fill="#151515">Fetal spleen</text>
<rect x="421.8" y="297.9" width="11" height="6.5" fill="url(#plight)" stroke="#1c1c1c" stroke-width="1"/>
<text x="433.9" y="305.4" font-size="11.3" textLength="74.2" lengthAdjust="spacingAndGlyphs" fill="#151515">Fetal kidney</text>
<g transform="rotate(0.18 29.6 730.3)">
<path d="M47.6 684.82 L500.54 684.82" fill="none" stroke="#b4b4b4" stroke-width="1.1" stroke-dasharray="2 1"/>
<path d="M32.6 698.72 L45.6 685.82" fill="none" stroke="#c8c8c8" stroke-width="0.9" stroke-dasharray="1.5 1.5"/>
<path d="M47.6 656.24 L500.54 656.24" fill="none" stroke="#b4b4b4" stroke-width="1.1" stroke-dasharray="2 1"/>
<path d="M32.6 670.14 L45.6 657.24" fill="none" stroke="#c8c8c8" stroke-width="0.9" stroke-dasharray="1.5 1.5"/>
<path d="M47.6 627.66 L500.54 627.66" fill="none" stroke="#b4b4b4" stroke-width="1.1" stroke-dasharray="2 1"/>
<path d="M32.6 641.56 L45.6 628.66" fill="none" stroke="#c8c8c8" stroke-width="0.9" stroke-dasharray="1.5 1.5"/>
<path d="M47.6 599.08 L500.54 599.08" fill="none" stroke="#b4b4b4" stroke-width="1.1" stroke-dasharray="2 1"/>
<path d="M32.6 612.98 L45.6 600.08" fill="none" stroke="#c8c8c8" stroke-width="0.9" stroke-dasharray="1.5 1.5"/>
<path d="M47.6 570.5 L500.54 570.5" fill="none" stroke="#b4b4b4" stroke-width="1.1" stroke-dasharray="2 1"/>
<path d="M32.6 584.4 L45.6 571.5" fill="none" stroke="#c8c8c8" stroke-width="0.9" stroke-dasharray="1.5 1.5"/>
<path d="M29.6 730.3 L29.6 558.82 L46.6 541.92 L501.04 541.92" fill="none" stroke="#1c1c1c" stroke-width="1.2"/>
<path d="M46.6 541.92 L46.6 713.4 M501.04 541.92 L501.04 713.4" fill="none" stroke="#1c1c1c" stroke-width="1.2"/>
<path d="M29.6 730.3 L484.04 730.3 L501.04 713.4 L46.6 713.4 Z" fill="#fff" stroke="#1c1c1c" stroke-width="1.2"/>
<path d="M45.83 730.9 L45.83 737.3" stroke="#666" stroke-width="0.9"/>
<path d="M78.29 730.9 L78.29 737.3" stroke="#666" stroke-width="0.9"/>
<path d="M110.75 730.9 L110.75 737.3" stroke="#666" stroke-width="0.9"/>
<path d="M143.21 730.9 L143.21 737.3" stroke="#666" stroke-width="0.9"/>
<path d="M175.67 730.9 L175.67 737.3" stroke="#666" stroke-width="0.9"/>
<path d="M208.13 730.9 L208.13 737.3" stroke="#666" stroke-width="0.9"/>
<path d="M240.59 730.9 L240.59 737.3" stroke="#666" stroke-width="0.9"/>
<path d="M273.05 730.9 L273.05 737.3" stroke="#666" stroke-width="0.9"/>
<path d="M305.51 730.9 L305.51 737.3" stroke="#666" stroke-width="0.9"/>
<path d="M337.97 730.9 L337.97 737.3" stroke="#666" stroke-width="0.9"/>
<path d="M370.43 730.9 L370.43 737.3" stroke="#666" stroke-width="0.9"/>
<path d="M402.89 730.9 L402.89 737.3" stroke="#666" stroke-width="0.9"/>
<path d="M435.35 730.9 L435.35 737.3" stroke="#666" stroke-width="0.9"/>
<path d="M467.81 730.9 L467.81 737.3" stroke="#666" stroke-width="0.9"/>
<path d="M36.44 723.5 L490.88 723.5" stroke="#6a6a6a" stroke-width="0.9"/>
<path d="M44.38 720.81 L76.84 715.09 L109.31 708.09 L141.76 693.37 L174.22 657.64 L206.69 721.95" fill="none" stroke="#ababab" stroke-width="0.7" stroke-dasharray="1.2 1.3"/>
<path d="M181.09 721.95 L213.56 679.22 L246.02 629.07 L278.47 607.63 L310.94 586.34 L343.4 622.63 L375.85 680.51 L408.31 721.95 L440.78 721.95 L473.23 693.94" fill="none" stroke="#ababab" stroke-width="0.7" stroke-dasharray="1.2 1.3"/>
<path d="M382.72 721.95 L415.19 694.8 L447.65 679.51 L480.1 679.37" fill="none" stroke="#ababab" stroke-width="0.7" stroke-dasharray="1.2 1.3"/>
<path d="M389.59 721.95 L422.06 694.8 L454.52 679.51 L486.97 693.94" fill="none" stroke="#ababab" stroke-width="0.7" stroke-dasharray="1.2 1.3"/>
<path d="M46.32 723.5 L46.32 722.36 L49.32 719.26 L49.32 720.4 Z" fill="#141414" stroke="#1c1c1c" stroke-width="0.8"/>
<path d="M39.45 722.36 L46.32 722.36 L49.32 719.26 L42.45 719.26 Z" fill="#141414" stroke="#1c1c1c" stroke-width="0.8"/>
<rect x="39.45" y="722.36" width="6.87" height="1.14" fill="#141414" stroke="#1c1c1c" stroke-width="1"/>
<path d="M46.32 723.5 L53.19 723.5 L56.19 720.4 L49.32 720.4 Z" fill="url(#pflat)" stroke="#1c1c1c" stroke-width="0.8"/>
<path d="M53.19 723.5 L60.06 723.5 L63.06 720.4 L56.19 720.4 Z" fill="url(#pflat)" stroke="#1c1c1c" stroke-width="0.8"/>
<path d="M60.06 723.5 L66.93 723.5 L69.93 720.4 L63.06 720.4 Z" fill="url(#pflat)" stroke="#1c1c1c" stroke-width="0.8"/>
<path d="M78.78 723.5 L78.78 716.64 L81.78 713.54 L81.78 720.4 Z" fill="#141414" stroke="#1c1c1c" stroke-width="0.8"/>
<path d="M71.91 716.64 L78.78 716.64 L81.78 713.54 L74.91 713.54 Z" fill="#141414" stroke="#1c1c1c" stroke-width="0.8"/>
<rect x="71.91" y="716.64" width="6.87" height="6.86" fill="#141414" stroke="#1c1c1c" stroke-width="1"/>
<path d="M78.78 723.5 L85.65 723.5 L88.65 720.4 L81.78 720.4 Z" fill="url(#pflat)" stroke="#1c1c1c" stroke-width="0.8"/>
<path d="M85.65 723.5 L92.52 723.5 L95.52 720.4 L88.65 720.4 Z" fill="url(#pflat)" stroke="#1c1c1c" stroke-width="0.8"/>
<path d="M92.52 723.5 L99.39 723.5 L102.39 720.4 L95.52 720.4 Z" fill="url(#pflat)" stroke="#1c1c1c" stroke-width="0.8"/>
<path d="M111.24 723.5 L111.24 709.64 L114.24 706.54 L114.24 720.4 Z" fill="#141414" stroke="#1c1c1c" stroke-width="0.8"/>
<path d="M104.37 709.64 L111.24 709.64 L114.24 706.54 L107.37 706.54 Z" fill="#141414" stroke="#1c1c1c" stroke-width="0.8"/>
<rect x="104.37" y="709.64" width="6.87" height="13.86" fill="#141414" stroke="#1c1c1c" stroke-width="1"/>
<path d="M111.24 723.5 L118.11 723.5 L121.11 720.4 L114.24 720.4 Z" fill="url(#pflat)" stroke="#1c1c1c" stroke-width="0.8"/>
<path d="M118.11 723.5 L124.98 723.5 L127.98 720.4 L121.11 720.4 Z" fill="url(#pflat)" stroke="#1c1c1c" stroke-width="0.8"/>
<path d="M124.98 723.5 L131.85 723.5 L134.85 720.4 L127.98 720.4 Z" fill="url(#pflat)" stroke="#1c1c1c" stroke-width="0.8"/>
<path d="M143.7 723.5 L143.7 694.92 L146.7 691.82 L146.7 720.4 Z" fill="#141414" stroke="#1c1c1c" stroke-width="0.8"/>
<path d="M136.83 694.92 L143.7 694.92 L146.7 691.82 L139.83 691.82 Z" fill="#141414" stroke="#1c1c1c" stroke-width="0.8"/>
<rect x="136.83" y="694.92" width="6.87" height="28.58" fill="#141414" stroke="#1c1c1c" stroke-width="1"/>
<path d="M143.7 723.5 L150.57 723.5 L153.57 720.4 L146.7 720.4 Z" fill="url(#pflat)" stroke="#1c1c1c" stroke-width="0.8"/>
<path d="M150.57 723.5 L157.44 723.5 L160.44 720.4 L153.57 720.4 Z" fill="url(#pflat)" stroke="#1c1c1c" stroke-width="0.8"/>
<path d="M157.44 723.5 L164.31 723.5 L167.31 720.4 L160.44 720.4 Z" fill="url(#pflat)" stroke="#1c1c1c" stroke-width="0.8"/>
<path d="M176.16 723.5 L176.16 659.19 L179.16 656.09 L179.16 720.4 Z" fill="#141414" stroke="#1c1c1c" stroke-width="0.8"/>
<path d="M169.29 659.19 L176.16 659.19 L179.16 656.09 L172.29 656.09 Z" fill="#141414" stroke="#1c1c1c" stroke-width="0.8"/>
<rect x="169.29" y="659.19" width="6.87" height="64.31" fill="#141414" stroke="#1c1c1c" stroke-width="1"/>
<path d="M176.16 723.5 L183.03 723.5 L186.03 720.4 L179.16 720.4 Z" fill="url(#pflat)" stroke="#1c1c1c" stroke-width="0.8"/>
<path d="M183.03 723.5 L189.9 723.5 L192.9 720.4 L186.03 720.4 Z" fill="url(#pflat)" stroke="#1c1c1c" stroke-width="0.8"/>
<path d="M189.9 723.5 L196.77 723.5 L199.77 720.4 L192.9 720.4 Z" fill="url(#pflat)" stroke="#1c1c1c" stroke-width="0.8"/>
<path d="M201.75 723.5 L208.62 723.5 L211.62 720.4 L204.75 720.4 Z" fill="#141414" stroke="#1c1c1c" stroke-width="0.8"/>
<path d="M215.49 723.5 L215.49 680.77 L218.49 677.67 L218.49 720.4 Z" fill="url(#pdark)" stroke="#1c1c1c" stroke-width="0.8"/>
<path d="M208.62 680.77 L215.49 680.77 L218.49 677.67 L211.62 677.67 Z" fill="#a4a4a4" stroke="#1c1c1c" stroke-width="0.8"/>
<rect x="208.62" y="680.77" width="6.87" height="42.73" fill="#fff" stroke="#1c1c1c" stroke-width="1"/>
<path d="M215.49 723.5 L222.36 723.5 L225.36 720.4 L218.49 720.4 Z" fill="url(#pflat)" stroke="#1c1c1c" stroke-width="0.8"/>
<path d="M222.36 723.5 L229.23 723.5 L232.23 720.4 L225.36 720.4 Z" fill="url(#pflat)" stroke="#1c1c1c" stroke-width="0.8"/>
<path d="M234.21 723.5 L241.08 723.5 L244.08 720.4 L237.21 720.4 Z" fill="#141414" stroke="#1c1c1c" stroke-width="0.8"/>
<path d="M247.95 723.5 L247.95 630.62 L250.95 627.51 L250.95 720.4 Z" fill="url(#pdark)" stroke="#1c1c1c" stroke-width="0.8"/>
<path d="M241.08 630.62 L247.95 630.62 L250.95 627.51 L244.08 627.51 Z" fill="#a4a4a4" stroke="#1c1c1c" stroke-width="0.8"/>
<rect x="241.08" y="630.62" width="6.87" height="92.89" fill="#fff" stroke="#1c1c1c" stroke-width="1"/>
<path d="M247.95 723.5 L254.82 723.5 L257.82 720.4 L250.95 720.4 Z" fill="url(#pflat)" stroke="#1c1c1c" stroke-width="0.8"/>
<path d="M254.82 723.5 L261.69 723.5 L264.69 720.4 L257.82 720.4 Z" fill="url(#pflat)" stroke="#1c1c1c" stroke-width="0.8"/>
<path d="M266.67 723.5 L273.54 723.5 L276.54 720.4 L269.67 720.4 Z" fill="#141414" stroke="#1c1c1c" stroke-width="0.8"/>
<path d="M280.41 723.5 L280.41 609.18 L283.41 606.08 L283.41 720.4 Z" fill="url(#pdark)" stroke="#1c1c1c" stroke-width="0.8"/>
<path d="M273.54 609.18 L280.41 609.18 L283.41 606.08 L276.54 606.08 Z" fill="#a4a4a4" stroke="#1c1c1c" stroke-width="0.8"/>
<rect x="273.54" y="609.18" width="6.87" height="114.32" fill="#fff" stroke="#1c1c1c" stroke-width="1"/>
<path d="M280.41 723.5 L287.28 723.5 L290.28 720.4 L283.41 720.4 Z" fill="url(#pflat)" stroke="#1c1c1c" stroke-width="0.8"/>
<path d="M287.28 723.5 L294.15 723.5 L297.15 720.4 L290.28 720.4 Z" fill="url(#pflat)" stroke="#1c1c1c" stroke-width="0.8"/>
<path d="M299.13 723.5 L306 723.5 L309 720.4 L302.13 720.4 Z" fill="#141414" stroke="#1c1c1c" stroke-width="0.8"/>
<path d="M312.87 723.5 L312.87 587.89 L315.87 584.79 L315.87 720.4 Z" fill="url(#pdark)" stroke="#1c1c1c" stroke-width="0.8"/>
<path d="M306 587.89 L312.87 587.89 L315.87 584.79 L309 584.79 Z" fill="#a4a4a4" stroke="#1c1c1c" stroke-width="0.8"/>
<rect x="306" y="587.89" width="6.87" height="135.61" fill="#fff" stroke="#1c1c1c" stroke-width="1"/>
<path d="M312.87 723.5 L319.74 723.5 L322.74 720.4 L315.87 720.4 Z" fill="url(#pflat)" stroke="#1c1c1c" stroke-width="0.8"/>
<path d="M319.74 723.5 L326.61 723.5 L329.61 720.4 L322.74 720.4 Z" fill="url(#pflat)" stroke="#1c1c1c" stroke-width="0.8"/>
<path d="M331.59 723.5 L338.46 723.5 L341.46 720.4 L334.59 720.4 Z" fill="#141414" stroke="#1c1c1c" stroke-width="0.8"/>
<path d="M345.33 723.5 L345.33 624.18 L348.33 621.08 L348.33 720.4 Z" fill="url(#pdark)" stroke="#1c1c1c" stroke-width="0.8"/>
<path d="M338.46 624.18 L345.33 624.18 L348.33 621.08 L341.46 621.08 Z" fill="#a4a4a4" stroke="#1c1c1c" stroke-width="0.8"/>
<rect x="338.46" y="624.18" width="6.87" height="99.32" fill="#fff" stroke="#1c1c1c" stroke-width="1"/>
<path d="M345.33 723.5 L352.2 723.5 L355.2 720.4 L348.33 720.4 Z" fill="url(#pflat)" stroke="#1c1c1c" stroke-width="0.8"/>
<path d="M352.2 723.5 L359.07 723.5 L362.07 720.4 L355.2 720.4 Z" fill="url(#pflat)" stroke="#1c1c1c" stroke-width="0.8"/>
<path d="M364.05 723.5 L370.92 723.5 L373.92 720.4 L367.05 720.4 Z" fill="#141414" stroke="#1c1c1c" stroke-width="0.8"/>
<path d="M377.79 723.5 L377.79 682.06 L380.79 678.96 L380.79 720.4 Z" fill="url(#pdark)" stroke="#1c1c1c" stroke-width="0.8"/>
<path d="M370.92 682.06 L377.79 682.06 L380.79 678.96 L373.92 678.96 Z" fill="#a4a4a4" stroke="#1c1c1c" stroke-width="0.8"/>
<rect x="370.92" y="682.06" width="6.87" height="41.44" fill="#fff" stroke="#1c1c1c" stroke-width="1"/>
<path d="M377.79 723.5 L384.66 723.5 L387.66 720.4 L380.79 720.4 Z" fill="url(#pflat)" stroke="#1c1c1c" stroke-width="0.8"/>
<path d="M384.66 723.5 L391.53 723.5 L394.53 720.4 L387.66 720.4 Z" fill="url(#pflat)" stroke="#1c1c1c" stroke-width="0.8"/>
<path d="M396.51 723.5 L403.38 723.5 L406.38 720.4 L399.51 720.4 Z" fill="#141414" stroke="#1c1c1c" stroke-width="0.8"/>
<path d="M403.38 723.5 L410.25 723.5 L413.25 720.4 L406.38 720.4 Z" fill="url(#pflat)" stroke="#1c1c1c" stroke-width="0.8"/>
<path d="M417.12 723.5 L417.12 696.35 L420.12 693.25 L420.12 720.4 Z" fill="url(#pdark)" stroke="#1c1c1c" stroke-width="0.8"/>
<path d="M410.25 696.35 L417.12 696.35 L420.12 693.25 L413.25 693.25 Z" fill="url(#ptop)" stroke="#1c1c1c" stroke-width="0.8"/>
<rect x="410.25" y="696.35" width="6.87" height="27.15" fill="url(#pmid)" stroke="#1c1c1c" stroke-width="1"/>
<path d="M423.99 723.5 L423.99 696.35 L426.99 693.25 L426.99 720.4 Z" fill="url(#pdark)" stroke="#1c1c1c" stroke-width="0.8"/>
<path d="M417.12 696.35 L423.99 696.35 L426.99 693.25 L420.12 693.25 Z" fill="#8a8a8a" stroke="#1c1c1c" stroke-width="0.8"/>
<rect x="417.12" y="696.35" width="6.87" height="27.15" fill="url(#plight)" stroke="#1c1c1c" stroke-width="1"/>
<path d="M428.97 723.5 L435.84 723.5 L438.84 720.4 L431.97 720.4 Z" fill="#141414" stroke="#1c1c1c" stroke-width="0.8"/>
<path d="M435.84 723.5 L442.71 723.5 L445.71 720.4 L438.84 720.4 Z" fill="url(#pflat)" stroke="#1c1c1c" stroke-width="0.8"/>
<path d="M449.58 723.5 L449.58 681.06 L452.58 677.96 L452.58 720.4 Z" fill="url(#pdark)" stroke="#1c1c1c" stroke-width="0.8"/>
<path d="M442.71 681.06 L449.58 681.06 L452.58 677.96 L445.71 677.96 Z" fill="url(#ptop)" stroke="#1c1c1c" stroke-width="0.8"/>
<rect x="442.71" y="681.06" width="6.87" height="42.44" fill="url(#pmid)" stroke="#1c1c1c" stroke-width="1"/>
<path d="M456.45 723.5 L456.45 681.06 L459.45 677.96 L459.45 720.4 Z" fill="url(#pdark)" stroke="#1c1c1c" stroke-width="0.8"/>
<path d="M449.58 681.06 L456.45 681.06 L459.45 677.96 L452.58 677.96 Z" fill="#8a8a8a" stroke="#1c1c1c" stroke-width="0.8"/>
<rect x="449.58" y="681.06" width="6.87" height="42.44" fill="url(#plight)" stroke="#1c1c1c" stroke-width="1"/>
<path d="M461.43 723.5 L468.3 723.5 L471.3 720.4 L464.43 720.4 Z" fill="#141414" stroke="#1c1c1c" stroke-width="0.8"/>
<path d="M475.17 723.5 L475.17 695.49 L478.17 692.39 L478.17 720.4 Z" fill="url(#pdark)" stroke="#1c1c1c" stroke-width="0.8"/>
<path d="M468.3 695.49 L475.17 695.49 L478.17 692.39 L471.3 692.39 Z" fill="#a4a4a4" stroke="#1c1c1c" stroke-width="0.8"/>
<rect x="468.3" y="695.49" width="6.87" height="28.01" fill="#fff" stroke="#1c1c1c" stroke-width="1"/>
<path d="M482.04 723.5 L482.04 680.92 L485.04 677.82 L485.04 720.4 Z" fill="url(#pdark)" stroke="#1c1c1c" stroke-width="0.8"/>
<path d="M475.17 680.92 L482.04 680.92 L485.04 677.82 L478.17 677.82 Z" fill="url(#ptop)" stroke="#1c1c1c" stroke-width="0.8"/>
<rect x="475.17" y="680.92" width="6.87" height="42.58" fill="url(#pmid)" stroke="#1c1c1c" stroke-width="1"/>
<path d="M488.91 723.5 L488.91 695.49 L491.91 692.39 L491.91 720.4 Z" fill="url(#pdark)" stroke="#1c1c1c" stroke-width="0.8"/>
<path d="M482.04 695.49 L488.91 695.49 L491.91 692.39 L485.04 692.39 Z" fill="#8a8a8a" stroke="#1c1c1c" stroke-width="0.8"/>
<rect x="482.04" y="695.49" width="6.87" height="28.01" fill="url(#plight)" stroke="#1c1c1c" stroke-width="1"/>
<text transform="translate(45.83 754) scale(1.04 1)" font-size="13" text-anchor="middle" fill="#151515">6.5</text>
<text transform="translate(78.29 754) scale(1.04 1)" font-size="13" text-anchor="middle" fill="#151515">7.5</text>
<text transform="translate(110.75 754) scale(1.04 1)" font-size="13" text-anchor="middle" fill="#151515">8.5</text>
<text transform="translate(143.21 754) scale(1.04 1)" font-size="13" text-anchor="middle" fill="#151515">9.5</text>
<text transform="translate(175.67 754) scale(1.04 1)" font-size="13" text-anchor="middle" fill="#151515">10.5</text>
<text transform="translate(208.13 754) scale(1.04 1)" font-size="13" text-anchor="middle" fill="#151515">11.5</text>
<text transform="translate(240.59 754) scale(1.04 1)" font-size="13" text-anchor="middle" fill="#151515">12.5</text>
<text transform="translate(273.05 754) scale(1.04 1)" font-size="13" text-anchor="middle" fill="#151515">13.5</text>
<text transform="translate(305.51 754) scale(1.04 1)" font-size="13" text-anchor="middle" fill="#151515">14.5</text>
<text transform="translate(337.97 754) scale(1.04 1)" font-size="13" text-anchor="middle" fill="#151515">15.5</text>
<text transform="translate(370.43 754) scale(1.04 1)" font-size="13" text-anchor="middle" fill="#151515">16.5</text>
<text transform="translate(402.89 754) scale(1.04 1)" font-size="13" text-anchor="middle" fill="#151515">17.5</text>
<text transform="translate(435.35 754) scale(1.04 1)" font-size="13" text-anchor="middle" fill="#151515">18.5</text>
<text transform="translate(467.81 754) scale(1.04 1)" font-size="13" text-anchor="middle" fill="#151515">19.5</text>
</g>
<text x="19.2" y="734.9" font-size="13" text-anchor="end" fill="#151515">0</text>
<text x="19.2" y="706.32" font-size="13" text-anchor="end" fill="#151515">0.2</text>
<text x="19.2" y="677.74" font-size="13" text-anchor="end" fill="#151515">0.4</text>
<text x="19.2" y="649.16" font-size="13" text-anchor="end" fill="#151515">0.6</text>
<text x="19.2" y="620.58" font-size="13" text-anchor="end" fill="#151515">0.8</text>
<text x="19.2" y="592" font-size="13" text-anchor="end" fill="#151515">1</text>
<text x="19.2" y="563.42" font-size="13" text-anchor="end" fill="#151515">1.2</text>
<text x="191.8" y="523.1" font-size="11.2" textLength="127.2" lengthAdjust="spacingAndGlyphs" fill="#151515">HOX B6 Expression</text>
<text x="46.8" y="535.5" font-size="12" textLength="140" lengthAdjust="spacingAndGlyphs" fill="#151515">Arbitrary Expression Units</text>
<rect x="187.8" y="547.4" width="311.3" height="17.8" fill="#fff" stroke="#1c1c1c" stroke-width="1.2"/>
<rect x="191.3" y="552.7" width="11.5" height="6.6" fill="#141414" stroke="#1c1c1c" stroke-width="1"/>
<text x="204" y="560.1" font-size="11" textLength="42.6" lengthAdjust="spacingAndGlyphs" fill="#151515">Embryo</text>
<rect x="254.3" y="552.7" width="11.4" height="6.6" fill="#fff" stroke="#1c1c1c" stroke-width="1"/>
<text x="267.8" y="560.1" font-size="11" textLength="52.4" lengthAdjust="spacingAndGlyphs" fill="#151515">Fetal liver</text>
<rect x="328.2" y="552.7" width="10.3" height="6.6" fill="url(#pmid)" stroke="#1c1c1c" stroke-width="1"/>
<text x="340.3" y="560.1" font-size="11" textLength="67.8" lengthAdjust="spacingAndGlyphs" fill="#151515">Fetal spleen</text>
<rect x="415.3" y="552.7" width="9.8" height="6.6" fill="url(#plight)" stroke="#1c1c1c" stroke-width="1"/>
<text x="426.4" y="560.1" font-size="11" textLength="68.4" lengthAdjust="spacingAndGlyphs" fill="#151515">Fetal kidney</text>
<text x="197.3" y="781.2" font-size="12" textLength="118.6" lengthAdjust="spacingAndGlyphs" fill="#151515">Gestation Time (days)</text>
</g>
</svg>
</body></html>
